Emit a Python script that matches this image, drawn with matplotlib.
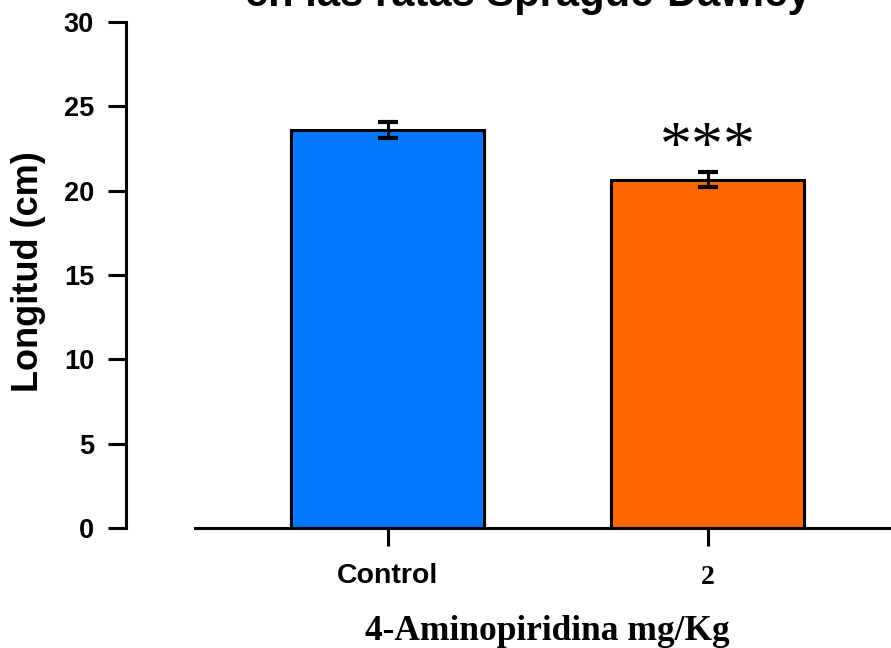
import numpy as np
import matplotlib
matplotlib.use('Agg')
import matplotlib.pyplot as plt

# datos
grupos = ['Control', '2']
longitud = [23.6, 20.65]
error = [0.45, 0.45]
colores = ['#0077FF', '#FF6600']

W, H = 891, 648
fig = plt.figure(figsize=(W/100, H/100), dpi=100)

# ejes: eje y en x=126 px, 0 en y=528 px, 30 en y=22 px
x0, x1 = 126, 891
ax = fig.add_axes([x0/W, 1-528/H, (x1-x0)/W, (528-22)/H])

c0, c1 = 387.5, 707.5   # centros de las barras en px
ppu = c1 - c0
ax.set_xlim((x0-c0)/ppu, (x1-c0)/ppu)
ax.set_ylim(0, 30)

pos = np.arange(len(grupos))
ax.bar(pos, longitud, width=193/ppu, color=colores, edgecolor='black', linewidth=2.2, zorder=2)
ax.errorbar(pos, longitud, yerr=error, fmt='none', ecolor='black', elinewidth=2.2,
            capsize=7, capthick=3, zorder=3)

ax.spines['top'].set_visible(False)
ax.spines['right'].set_visible(False)
ax.spines['left'].set_linewidth(2.2)
ax.spines['bottom'].set_linewidth(2.2)
ax.spines['bottom'].set_bounds((195-c0)/ppu, (x1-c0)/ppu)
ax.spines['left'].set_bounds(0, 30)

ax.set_yticks([0, 5, 10, 15, 20, 25, 30])
ax.set_yticklabels(['0', '5', '10', '15', '20', '25', '30'], fontsize=19.5, fontweight='bold',
                   family='Liberation Sans')
ax.tick_params(axis='y', length=13, width=2.2, pad=10)
ax.set_xticks(pos)
ax.set_xticklabels([])
ax.tick_params(axis='x', length=13, width=2.2)

# etiquetas del eje x (la segunda en serif como en el original)
ax.text(0, -0.095, 'Control', transform=ax.get_xaxis_transform(), ha='center', va='center',
        fontsize=20.5, fontweight='bold', family='Liberation Sans')
ax.text(1, -0.098, '2', transform=ax.get_xaxis_transform(), ha='center', va='center',
        fontsize=20, fontweight='bold', family='Liberation Serif')

fig.text(547/W, 1-632/H, '4-Aminopiridina mg/Kg', ha='center', va='center',
         fontsize=25.5, fontweight='bold', family='Liberation Serif')
fig.text(28/W, 1-272/H, 'Longitud (cm)', ha='center', va='center', rotation=90,
         fontsize=26, fontweight='bold', family='Liberation Sans')

# significancia
ax.text(1, longitud[1] + 1.75, '***', ha='center', va='center', fontsize=46,
        family='Liberation Serif')

# titulo cortado arriba
fig.text(528/W, 1-6/H, 'en las ratas Sprague-Dawley', ha='center', va='baseline',
         fontsize=30, fontweight='bold', family='Liberation Sans')

fig.savefig('out.png', dpi=100)
